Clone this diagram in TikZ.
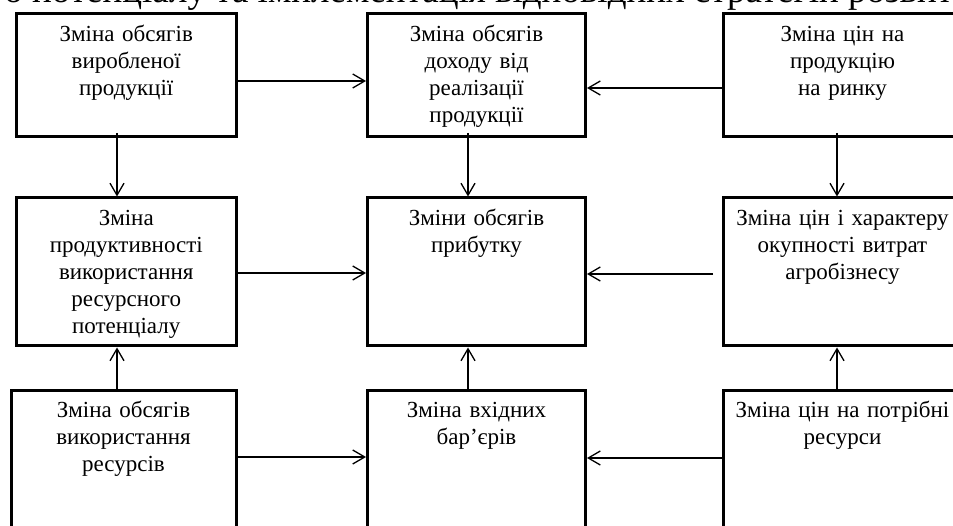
\documentclass[tikz,border=0pt]{standalone}
\usepackage{fontspec}
\setmainfont{Liberation Serif}
\usetikzlibrary{arrows.meta}

\begin{document}
\begin{tikzpicture}[x=1pt,y=1pt,
  box/.style={draw,line width=3pt,inner sep=0pt,align=center,
    font=\fontsize{23}{27}\selectfont,text height=27.5pt},
  >={Straight Barb[length=12pt,width=14pt]}]
\useasboundingbox (0,0) rectangle (953,525);
\clip (0,0) rectangle (953,525);
\node[anchor=base west,inner sep=0pt,font=\fontsize{37}{42}\selectfont] (T) at (32,522.5)
  {\llap{ресурсного }потенціалу та імплементація відповідних стратегій розвитку};
% row 1
\node[box,text width=219.5pt,text depth=95pt] (A) at (126.25,449.75) {Зміна обсягів\\виробленої\\продукції};
\node[box,text width=218pt,text depth=95pt] (B) at (476.5,449.75) {Зміна обсягів\\доходу від\\реалізації\\продукції};
\node[box,text width=238pt,text depth=95pt] (C) at (842.5,449.75) {Зміна цін на\\продукцію\\на ринку};
% row 2
\node[box,text width=219.5pt,text depth=120.5pt] (D) at (126.25,253) {Зміна\\продуктивності\\використання\\ресурсного\\потенціалу};
\node[box,text width=218pt,text depth=120.5pt] (E) at (476.5,253) {Зміни обсягів\\прибутку};
\node[box,text width=238pt,text depth=120.5pt] (F) at (842.5,253) {Зміна цін і характеру\\окупності витрат\\агробізнесу};
% row 3
\node[box,text width=225pt,text depth=132pt] (G) at (123.5,54.75) {Зміна обсягів\\використання\\ресурсів};
\node[box,text width=218pt,text depth=132pt] (H) at (476.5,54.75) {Зміна вхідних\\бар’єрів};
\node[box,text width=238pt,text depth=132pt] (I) at (842.5,54.75) {Зміна цін на потрібні\\ресурси};
\path[->,line width=1.3pt]
([yshift=-5.75pt]A.east) edge ([yshift=-5.75pt]B.west)
([yshift=-12.75pt]C.west) edge ([yshift=-12.75pt]B.east)
([yshift=-1pt]D.east) edge ([yshift=-1pt]E.west)
([xshift=-9pt,yshift=-2pt]F.west) edge ([yshift=-2pt]E.east)
([yshift=13.25pt]G.east) edge ([yshift=13.25pt]H.west)
([yshift=12.25pt]I.west) edge ([yshift=12.25pt]H.east)
([xshift=-9.25pt,yshift=5pt]A.south) edge ([xshift=-9.25pt]D.north)
([xshift=-8.5pt,yshift=5pt]B.south) edge ([xshift=-8.5pt]E.north)
([xshift=-5.5pt,yshift=5pt]C.south) edge ([xshift=-5.5pt]F.north)
([xshift=-9.25pt]D.south |- G.north) edge ([xshift=-9.25pt]D.south)
([xshift=-8.5pt]H.north) edge ([xshift=-8.5pt]E.south)
([xshift=-5.5pt]I.north) edge ([xshift=-5.5pt]F.south);
\end{tikzpicture}
\end{document}
